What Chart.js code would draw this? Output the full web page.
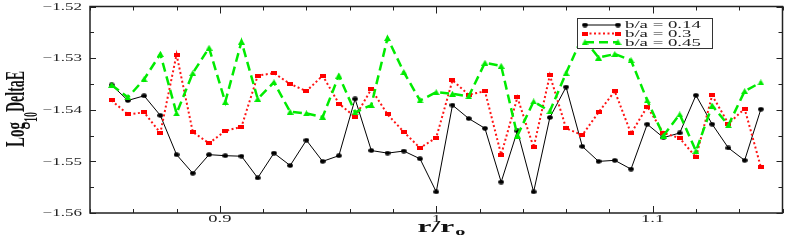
<!DOCTYPE html>
<html><head><meta charset="utf-8">
<script src="https://cdn.jsdelivr.net/npm/chart.js@4/dist/chart.umd.min.js"></script>
<style>html,body{margin:0;padding:0;background:#fff;overflow:hidden}#wrap{width:789px;height:242px}</style>
</head><body><div id="wrap"><canvas id="c" width="789" height="242"></canvas></div>
<script>
const rOverR0 = [0.85,0.8575,0.865,0.8725,0.88,0.8875,0.895,0.9025,0.91,0.9175,0.925,0.9325,0.94,0.9475,0.955,0.9625,0.97,0.9775,0.985,0.9925,1.0,1.0075,1.015,1.0225,1.03,1.0375,1.045,1.0525,1.06,1.0675,1.075,1.0825,1.09,1.0975,1.105,1.1125,1.12,1.1275,1.135,1.1425,1.15];
const ba014 = [-1.5352,-1.5382,-1.5373,-1.5411,-1.5487,-1.5523,-1.5487,-1.5489,-1.5490,-1.5532,-1.5484,-1.5508,-1.5459,-1.5500,-1.5489,-1.5379,-1.5479,-1.5484,-1.5480,-1.5495,-1.5559,-1.5391,-1.5417,-1.5436,-1.5540,-1.5441,-1.5559,-1.5415,-1.5356,-1.5471,-1.5500,-1.5498,-1.5515,-1.5428,-1.5454,-1.5445,-1.5372,-1.5428,-1.5474,-1.5498,-1.5399];
const ba03 = [-1.5382,-1.5409,-1.5405,-1.5445,-1.5293,-1.5443,-1.5465,-1.5441,-1.5433,-1.5334,-1.5329,-1.5350,-1.5364,-1.5334,-1.5388,-1.5414,-1.5360,-1.5409,-1.5443,-1.5474,-1.5454,-1.5343,-1.5371,-1.5364,-1.5487,-1.5376,-1.5473,-1.5333,-1.5436,-1.5449,-1.5405,-1.5364,-1.5446,-1.5394,-1.5445,-1.5455,-1.5492,-1.5372,-1.5427,-1.5398,-1.5511];
const ba045 = [-1.5352,-1.5376,-1.5341,-1.5292,-1.5407,-1.5329,-1.5280,-1.5385,-1.5268,-1.5379,-1.5347,-1.5404,-1.5407,-1.5414,-1.5334,-1.5405,-1.5391,-1.5261,-1.5327,-1.5382,-1.5366,-1.5369,-1.5374,-1.5309,-1.5315,-1.5450,-1.5384,-1.5403,-1.5329,-1.5259,-1.5299,-1.5292,-1.5304,-1.5382,-1.5450,-1.5409,-1.5480,-1.5392,-1.5430,-1.5364,-1.5347];
const seriesNames = ['b/a = 0.14','b/a = 0.3','b/a = 0.45'];
const xTicks = [0.9, 1.0, 1.1];
const xTickLabels = ['0.9','1','1.1'];
const yTicks = [-1.56,-1.55,-1.54,-1.53,-1.52];
const yTickLabels = ['\u22121.56','\u22121.55','\u22121.54','\u22121.53','\u22121.52'];

function mk(w,h,draw){const c=document.createElement('canvas');c.width=w;c.height=h;draw(c.getContext('2d'),w,h);return c;}
const mBlack = mk(6,5,(g,w,h)=>{g.fillStyle='#000';g.beginPath();g.ellipse(w/2,h/2,2.8,2.2,0,0,Math.PI*2);g.fill();});
const mRed = mk(6,4,(g,w,h)=>{g.fillStyle='#ff0000';g.fillRect(0,0,w,h);});
const mGreen = mk(7,6,(g,w,h)=>{g.fillStyle='rgb(0,235,0)';g.beginPath();g.moveTo(w/2,0);g.lineTo(w,h);g.lineTo(0,h);g.closePath();g.fill();});

const colors = ['#000000','rgb(255,20,20)','rgb(0,235,0)'];
const dashes = [[],[2,2.5],[9,5]];
const widths = [1,2,2.5];
const markers = [mBlack,mRed,mGreen];
const vals = [ba014,ba03,ba045];

const datasets = vals.map((v,k)=>({
  label: seriesNames[k],
  data: rOverR0.map((x,i)=>({x:x,y:v[i]})),
  borderColor: colors[k], backgroundColor: colors[k],
  borderWidth: widths[k], borderDash: dashes[k],
  pointStyle: markers[k], pointRadius: 3, tension: 0,
  order: 3-k
}));

function sText(ctx, txt, x, y, font, sx, align){
  ctx.save(); ctx.font=font;
  const w = ctx.measureText(txt).width*sx;
  const x0 = align==='right'? x-w : (align==='center'? x-w/2 : x);
  ctx.translate(x0,y); ctx.scale(sx,1);
  ctx.textAlign='left'; ctx.textBaseline='alphabetic';
  ctx.fillText(txt,0,0); ctx.restore(); return w;
}

const deco = {
  id:'deco',
  afterDatasetsDraw(chart){
    const ctx=chart.ctx, a=chart.chartArea, xs=chart.scales.x, ys=chart.scales.y;
    ctx.save();
    ctx.strokeStyle='#222'; ctx.lineWidth=1.5; ctx.setLineDash([]);
    ctx.strokeRect(a.left,a.top,a.right-a.left,a.bottom-a.top);
    ctx.lineWidth=1;
    ctx.beginPath();
    for(let k=0;k<=16;k++){
      const v=0.84+k*0.02; const px=Math.round(xs.getPixelForValue(v))+0.5;
      const major = Math.abs(v*10-Math.round(v*10))<1e-6;
      const L = major?7:4;
      ctx.moveTo(px,a.bottom); ctx.lineTo(px,a.bottom-L);
      ctx.moveTo(px,a.top); ctx.lineTo(px,a.top+L);
    }
    for(let k=0;k<=8;k++){
      const v=-1.56+k*0.005; const py=Math.round(ys.getPixelForValue(v))+0.5;
      const L = (k%2===0)?6:4;
      ctx.moveTo(a.left,py); ctx.lineTo(a.left+L,py);
      ctx.moveTo(a.right,py); ctx.lineTo(a.right-L,py);
    }
    ctx.stroke();
    ctx.fillStyle='#222';
    xTicks.forEach((v,i)=>sText(ctx,xTickLabels[i],xs.getPixelForValue(v),222,'10px "Liberation Serif"',1.85,'center'));
    yTicks.forEach((v,i)=>sText(ctx,yTickLabels[i],82,ys.getPixelForValue(v)+3.3,'10px "Liberation Serif"',1.7,'right'));
    ctx.fillStyle='#111';
    ctx.font='bold 17px "Liberation Serif"';
    const sx=1.85;
    const w1=ctx.measureText('r/r').width*sx;
    ctx.font='bold 11px "Liberation Serif"';
    const w2=ctx.measureText('o').width*sx;
    const x0=441-(w1+w2)/2;
    sText(ctx,'r/r',x0,231.5,'bold 17px "Liberation Serif"',sx,'left');
    sText(ctx,'o',x0+w1+1,235,'bold 11px "Liberation Serif"',sx,'left');
    ctx.save();
    ctx.translate(23.5,147); ctx.rotate(-Math.PI/2); ctx.scale(1,1.85);
    ctx.textAlign='left'; ctx.textBaseline='alphabetic';
    ctx.font='bold 15px "Liberation Serif"';
    ctx.fillText('Log',0,0); let p=ctx.measureText('Log').width;
    ctx.font='bold 10px "Liberation Serif"';
    ctx.fillText('10',p,7.3); p+=ctx.measureText('10').width;
    ctx.font='bold 15px "Liberation Serif"';
    ctx.scale(0.93,1);
    ctx.fillText('DeltaE',p/0.93,0);
    ctx.restore();
    const bx=577,by=18,bw=135,bh=30;
    ctx.fillStyle='#fff'; ctx.fillRect(bx,by,bw,bh);
    ctx.strokeStyle='#333'; ctx.lineWidth=1; ctx.strokeRect(bx+0.5,by+0.5,bw,bh);
    const rows=[25,33.5,42.3];
    for(let k=0;k<3;k++){
      const y=rows[k];
      ctx.strokeStyle=colors[k]; ctx.lineWidth=widths[k]; ctx.setLineDash(dashes[k]);
      ctx.beginPath(); ctx.moveTo(585,y); ctx.lineTo(618,y); ctx.stroke();
      ctx.setLineDash([]);
      const m=markers[k];
      ctx.drawImage(m,585-m.width/2,y-m.height/2); ctx.drawImage(m,618-m.width/2,y-m.height/2);
      ctx.fillStyle='#222';
      sText(ctx,seriesNames[k],625,rows[k]+3.3,'10px "Liberation Serif"',1.88,'left');
    }
    ctx.restore();
  }
};

new Chart(document.getElementById('c'),{
  type:'line',
  data:{datasets},
  options:{
    responsive:false, animation:false, devicePixelRatio:1,
    layout:{padding:{top:4,right:3,left:0,bottom:0}},
    plugins:{legend:{display:false},tooltip:{enabled:false}},
    scales:{
      x:{type:'linear',min:0.84,max:1.16,ticks:{display:false},grid:{display:false},border:{display:false},
         afterFit:s=>{s.height=29;}},
      y:{type:'linear',min:-1.56,max:-1.52,ticks:{display:false},grid:{display:false},border:{display:false},
         afterFit:s=>{s.width=90;}}
    }
  },
  plugins:[deco]
});
</script></body></html>
